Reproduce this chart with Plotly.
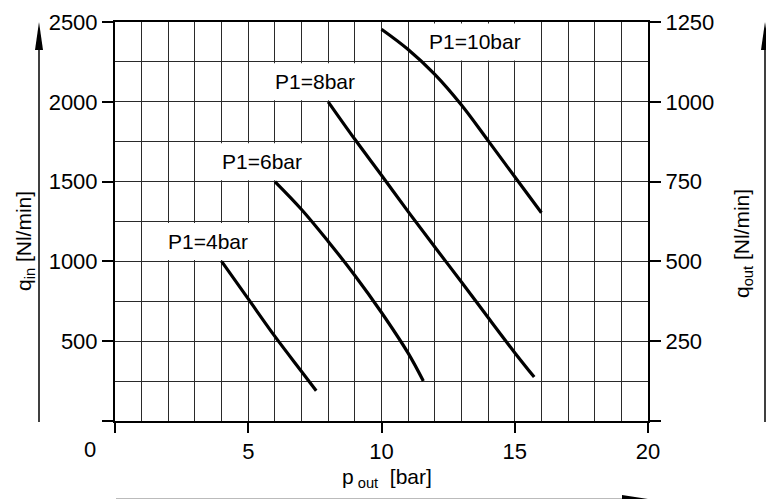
import plotly.graph_objects as go

# ---- data ----
x4 = [4, 5, 6, 7, 7.55]
y4 = [1000, 765, 530, 310, 190]
x6 = [6, 7, 8, 9, 10, 11, 11.57]
y6 = [1500, 1325, 1125, 912, 680, 425, 250]
x8 = [8, 9, 10, 11, 12, 13, 14, 15, 15.73]
y8 = [2000, 1765, 1540, 1312, 1090, 871, 648, 428, 275]
x10 = [10, 11, 12, 13, 14, 15, 16]
y10 = [2455, 2328, 2172, 1980, 1757, 1530, 1305]

series_x = [x4, x6, x8, x10]
series_y = [y4, y6, y8, y10]
series_labels = ["P1=4bar", "P1=6bar", "P1=8bar", "P1=10bar"]

x_tickvals = [0, 5, 10, 15, 20]
x_ticktext = ["", "5", "10", "15", "20"]
yl_tickvals = [0, 500, 1000, 1500, 2000, 2500]
yl_ticktext = ["", "500", "1000", "1500", "2000", "2500"]
yr_tickvals = [0, 250, 500, 750, 1000, 1250]
yr_ticktext = ["", "250", "500", "750", "1000", "1250"]

FONT = "Liberation Sans"
W, H = 766, 499
ML, MR, MT, MB = 115, 118, 22, 78
PW, PH = W - ML - MR, H - MT - MB


def px(p):
    return (p - ML) / PW


def py(p):
    return (H - MB - p) / PH


fig = go.Figure()
for xs, ys in zip(series_x, series_y):
    fig.add_trace(go.Scatter(x=xs, y=ys, mode="lines",
                             line=dict(color="black", width=3.2, shape="spline", smoothing=1.0),
                             showlegend=False, hoverinfo="skip"))
# helper trace so the right axis is drawn
fig.add_trace(go.Scatter(x=[0], y=[0], yaxis="y2", mode="markers",
                         marker=dict(opacity=0), showlegend=False, hoverinfo="skip"))

# label boxes (white, mask the grid) and label texts
boxes = [(1, 6, 1000, 1250), (3, 8, 1500, 1750), (5, 10, 2000, 2250), (11, 16, 2250, 2500)]
shapes = []
annotations = []
for (bx0, bx1, by0, by1), lab in zip(boxes, series_labels):
    shapes.append(dict(type="rect", xref="x", yref="y", x0=bx0 + 0.06, x1=bx1 - 0.06,
                       y0=by0 + 9, y1=by1 - 9, fillcolor="white", line=dict(width=0),
                       layer="between"))
    annotations.append(dict(x=(bx0 + bx1) / 2, y=(by0 + by1) / 2, xref="x", yref="y",
                            text=lab, showarrow=False, xanchor="center", yanchor="middle",
                            font=dict(family=FONT, size=21, color="black")))

# left vertical arrow
shapes.append(dict(type="line", xref="paper", yref="paper", x0=px(39), x1=px(39), y0=py(422), y1=py(46),
                   line=dict(color="black", width=1.5)))
shapes.append(dict(type="path", xref="paper", yref="paper",
                   path=f"M {px(39)} {py(22)} L {px(35)} {py(50)} L {px(43)} {py(50)} Z",
                   fillcolor="black", line=dict(width=0)))
# right vertical arrow
shapes.append(dict(type="line", xref="paper", yref="paper", x0=px(765), x1=px(765), y0=py(422), y1=py(46),
                   line=dict(color="black", width=1.5)))
shapes.append(dict(type="path", xref="paper", yref="paper",
                   path=f"M {px(765)} {py(22)} L {px(761)} {py(50)} L {px(769)} {py(50)} Z",
                   fillcolor="black", line=dict(width=0)))
# bottom horizontal arrow (mostly cut off)
shapes.append(dict(type="line", xref="paper", yref="paper", x0=px(116), x1=px(625), y0=py(498.5), y1=py(498.5),
                   line=dict(color="#bbbbbb", width=1)))
shapes.append(dict(type="path", xref="paper", yref="paper",
                   path=f"M {px(648)} {py(499)} L {px(622)} {py(495)} L {px(622)} {py(503)} Z",
                   fillcolor="black", line=dict(width=0)))

# origin label and axis titles
annotations.append(dict(x=px(90), y=py(449), xref="paper", yref="paper", text="0", showarrow=False,
                        xanchor="center", yanchor="middle",
                        font=dict(family=FONT, size=22, color="black")))
annotations.append(dict(x=px(387), y=py(478), xref="paper", yref="paper",
                        text="p<sub> out</sub>  [bar]", showarrow=False,
                        xanchor="center", yanchor="middle",
                        font=dict(family=FONT, size=21, color="black")))
annotations.append(dict(x=px(25), y=py(241), xref="paper", yref="paper",
                        text="q<sub>in</sub> [Nl/min]", textangle=-90, showarrow=False,
                        xanchor="center", yanchor="middle",
                        font=dict(family=FONT, size=21, color="black")))
annotations.append(dict(x=px(743), y=py(244), xref="paper", yref="paper",
                        text="q<sub>out</sub> [Nl/min]", textangle=-90, showarrow=False,
                        xanchor="center", yanchor="middle",
                        font=dict(family=FONT, size=21, color="black")))

GRID = "#2a2a2a"
fig.update_layout(
    width=W, height=H,
    margin=dict(l=ML, r=MR, t=MT, b=MB, autoexpand=False),
    plot_bgcolor="white", paper_bgcolor="white",
    font=dict(family=FONT, size=22, color="black"),
    xaxis=dict(range=[0, 20], tickvals=x_tickvals, ticktext=x_ticktext,
               ticks="outside", ticklen=10, tickwidth=2, tickcolor="black",
               showline=True, linewidth=2, linecolor="black", mirror=True,
               showgrid=True, gridcolor=GRID, gridwidth=1,
               minor=dict(tick0=0, dtick=1, showgrid=True, gridcolor=GRID, gridwidth=1),
               zeroline=False, fixedrange=True),
    yaxis=dict(range=[0, 2500], tickvals=yl_tickvals, ticktext=yl_ticktext,
               ticks="outside", ticklen=11, tickwidth=2, tickcolor="black",
               showline=True, linewidth=2, linecolor="black",
               showgrid=True, gridcolor=GRID, gridwidth=1,
               minor=dict(tick0=0, dtick=250, showgrid=True, gridcolor=GRID, gridwidth=1),
               zeroline=False, fixedrange=True),
    yaxis2=dict(range=[0, 1250], tickvals=yr_tickvals, ticktext=yr_ticktext,
                overlaying="y", side="right",
                ticks="outside", ticklen=11, tickwidth=2, tickcolor="black",
                showline=True, linewidth=2, linecolor="black",
                showgrid=False, zeroline=False, fixedrange=True),
    shapes=shapes,
    annotations=annotations,
)

fig.write_html("out.html", config={"displayModeBar": False},
               post_script="document.body.style.margin='0';document.body.style.overflow='hidden';")
